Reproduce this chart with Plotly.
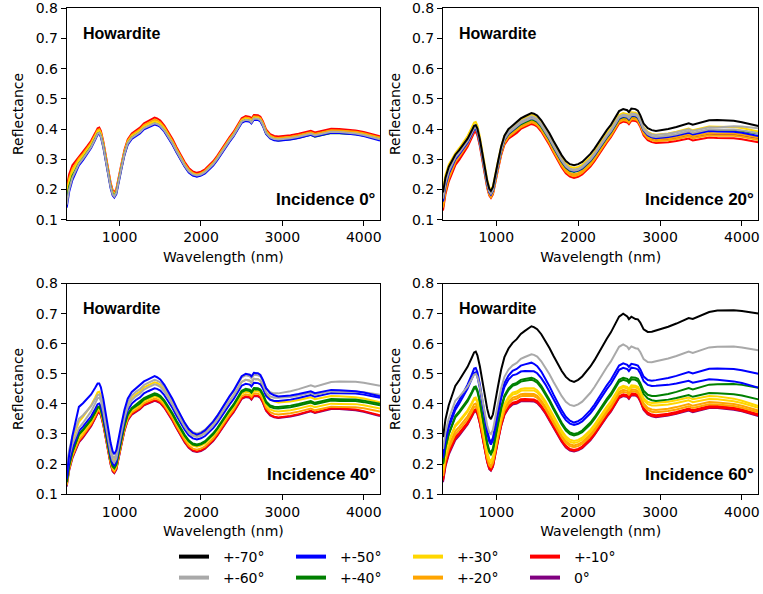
import numpy as np
import plotly.graph_objects as go

# ---------------- data ----------------
BASE_NM = [350, 380, 420, 460, 500, 550, 600, 650, 700, 730, 750, 770, 800, 830, 860, 890,
           915, 935, 960, 990, 1020, 1060, 1100, 1150, 1200, 1250, 1300, 1350, 1400, 1430,
           1460, 1500, 1550, 1600, 1650, 1700, 1750, 1800, 1850, 1900, 1950, 2000, 2050,
           2100, 2150, 2200, 2250, 2300, 2350, 2400, 2450, 2500, 2550, 2600, 2620, 2650,
           2700, 2730, 2760, 2800, 2850, 2900, 2950, 3000, 3100, 3200, 3300, 3350, 3400,
           3450, 3500, 3600, 3700, 3800, 3900, 4000, 4100, 4200]
BASE_R = [0.205, 0.250, 0.280, 0.295, 0.310, 0.325, 0.342, 0.360, 0.385, 0.401, 0.403, 0.392,
          0.357, 0.310, 0.260, 0.220, 0.195, 0.188, 0.200, 0.235, 0.280, 0.330, 0.365, 0.385,
          0.395, 0.405, 0.420, 0.428, 0.434, 0.440, 0.437, 0.430, 0.413, 0.392, 0.367, 0.340,
          0.313, 0.290, 0.270, 0.258, 0.253, 0.257, 0.265, 0.277, 0.292, 0.310, 0.332, 0.354,
          0.372, 0.390, 0.412, 0.436, 0.443, 0.440, 0.434, 0.446, 0.445, 0.440, 0.425, 0.398,
          0.383, 0.377, 0.375, 0.376, 0.379, 0.384, 0.392, 0.394, 0.388, 0.391, 0.395, 0.400,
          0.399, 0.397, 0.395, 0.390, 0.383, 0.376]

# reflectance of each curve read at these wavelengths
ANCHOR_NM = [350, 500, 740, 935, 1200, 1430, 1950, 2550, 2700, 2950, 3700, 4200]

ANGLE_LABELS = ["0°", "+-10°", "+-20°", "+-30°", "+-40°", "+-50°", "+-60°", "+-70°"]
ANGLE_COLORS = ["#800080", "#ff0000", "#ffa500", "#ffd700", "#008000", "#0000ff", "#a9a9a9", "#000000"]

PANEL_TITLES = ["Incidence 0°", "Incidence 20°", "Incidence 40°", "Incidence 60°"]
SAMPLE_NAME = "Howardite"

INC0_CURVES = [
    ("+-10°", [0.205, 0.310, 0.404, 0.190, 0.395, 0.438, 0.255, 0.443, 0.446, 0.375, 0.400, 0.376]),
    ("+-20°", [0.190, 0.302, 0.398, 0.186, 0.390, 0.431, 0.250, 0.438, 0.441, 0.370, 0.395, 0.372]),
    ("+-30°", [0.180, 0.296, 0.393, 0.182, 0.385, 0.425, 0.247, 0.434, 0.437, 0.366, 0.389, 0.368]),
    ("+-40°", [0.160, 0.286, 0.386, 0.178, 0.380, 0.418, 0.244, 0.430, 0.433, 0.362, 0.386, 0.365]),
    ("+-50°", [0.140, 0.280, 0.383, 0.173, 0.377, 0.415, 0.242, 0.427, 0.430, 0.361, 0.387, 0.362]),
    ("+-60°", [0.150, 0.285, 0.386, 0.177, 0.381, 0.419, 0.246, 0.431, 0.434, 0.365, 0.390, 0.366]),
]
INC20_CURVES = [
    ("0°",    [0.140, 0.285, 0.395, 0.178, 0.385, 0.425, 0.249, 0.432, 0.434, 0.362, 0.380, 0.370]),
    ("+-10°", [0.130, 0.280, 0.390, 0.172, 0.378, 0.417, 0.238, 0.425, 0.427, 0.354, 0.370, 0.356]),
    ("+-20°", [0.150, 0.300, 0.405, 0.178, 0.390, 0.428, 0.250, 0.436, 0.438, 0.366, 0.385, 0.372]),
    ("+-20°", [0.140, 0.290, 0.398, 0.175, 0.384, 0.422, 0.244, 0.430, 0.432, 0.360, 0.378, 0.364]),
    ("+-30°", [0.200, 0.320, 0.423, 0.199, 0.408, 0.447, 0.271, 0.453, 0.454, 0.381, 0.408, 0.392]),
    ("+-40°", [0.170, 0.305, 0.405, 0.185, 0.394, 0.432, 0.258, 0.440, 0.442, 0.372, 0.395, 0.385]),
    ("+-50°", [0.160, 0.300, 0.400, 0.183, 0.397, 0.436, 0.260, 0.442, 0.444, 0.370, 0.392, 0.377]),
    ("+-60°", [0.180, 0.310, 0.412, 0.190, 0.403, 0.442, 0.265, 0.448, 0.450, 0.380, 0.405, 0.403]),
    ("+-60°", [0.170, 0.305, 0.405, 0.186, 0.398, 0.436, 0.262, 0.444, 0.446, 0.374, 0.398, 0.386]),
    ("+-70°", [0.190, 0.315, 0.412, 0.195, 0.412, 0.453, 0.280, 0.466, 0.466, 0.394, 0.430, 0.410]),
]
INC40_CURVES = [
    ("0°",    [0.125, 0.272, 0.370, 0.170, 0.374, 0.410, 0.240, 0.423, 0.425, 0.353, 0.383, 0.360]),
    ("+-10°", [0.130, 0.275, 0.372, 0.172, 0.376, 0.412, 0.242, 0.425, 0.427, 0.355, 0.385, 0.362]),
    ("+-20°", [0.130, 0.280, 0.378, 0.176, 0.381, 0.418, 0.248, 0.432, 0.434, 0.365, 0.390, 0.375]),
    ("+-30°", [0.140, 0.290, 0.385, 0.182, 0.388, 0.425, 0.258, 0.440, 0.442, 0.375, 0.400, 0.385]),
    ("+-30°", [0.180, 0.340, 0.440, 0.210, 0.432, 0.472, 0.292, 0.480, 0.482, 0.405, 0.425, 0.405]),
    ("+-40°", [0.140, 0.300, 0.390, 0.188, 0.397, 0.435, 0.265, 0.450, 0.452, 0.390, 0.415, 0.400]),
    ("+-40°", [0.140, 0.298, 0.388, 0.186, 0.393, 0.430, 0.262, 0.446, 0.448, 0.385, 0.410, 0.395]),
    ("+-50°", [0.150, 0.310, 0.400, 0.195, 0.413, 0.452, 0.282, 0.467, 0.469, 0.410, 0.435, 0.420]),
    ("+-60°", [0.170, 0.320, 0.420, 0.205, 0.425, 0.465, 0.290, 0.480, 0.482, 0.420, 0.440, 0.430]),
    ("+-60°", [0.190, 0.350, 0.430, 0.220, 0.440, 0.480, 0.302, 0.495, 0.495, 0.435, 0.474, 0.460]),
    ("+-50°", [0.160, 0.390, 0.468, 0.233, 0.452, 0.492, 0.298, 0.500, 0.502, 0.425, 0.445, 0.425]),
]
INC60_CURVES = [
    ("0°",    [0.140, 0.280, 0.374, 0.178, 0.398, 0.410, 0.242, 0.426, 0.428, 0.356, 0.386, 0.360]),
    ("+-10°", [0.145, 0.285, 0.376, 0.180, 0.401, 0.413, 0.244, 0.428, 0.430, 0.358, 0.388, 0.362]),
    ("+-10°", [0.150, 0.290, 0.380, 0.183, 0.404, 0.417, 0.247, 0.432, 0.434, 0.362, 0.393, 0.366]),
    ("+-20°", [0.160, 0.300, 0.390, 0.190, 0.414, 0.428, 0.256, 0.440, 0.441, 0.372, 0.398, 0.372]),
    ("+-20°", [0.170, 0.310, 0.400, 0.195, 0.421, 0.435, 0.262, 0.447, 0.447, 0.380, 0.405, 0.378]),
    ("+-30°", [0.180, 0.325, 0.415, 0.205, 0.431, 0.447, 0.270, 0.455, 0.455, 0.395, 0.415, 0.387]),
    ("+-30°", [0.180, 0.330, 0.420, 0.210, 0.437, 0.454, 0.277, 0.460, 0.460, 0.404, 0.425, 0.393]),
    ("+-40°", [0.200, 0.355, 0.452, 0.232, 0.460, 0.480, 0.295, 0.480, 0.480, 0.410, 0.435, 0.415]),
    ("+-40°", [0.200, 0.360, 0.457, 0.238, 0.465, 0.487, 0.300, 0.487, 0.487, 0.426, 0.465, 0.454]),
    ("+-50°", [0.220, 0.380, 0.505, 0.265, 0.495, 0.511, 0.330, 0.520, 0.518, 0.460, 0.480, 0.454]),
    ("+-50°", [0.230, 0.390, 0.520, 0.273, 0.510, 0.537, 0.338, 0.535, 0.530, 0.479, 0.518, 0.500]),
    ("+-60°", [0.250, 0.410, 0.498, 0.300, 0.528, 0.565, 0.393, 0.598, 0.585, 0.542, 0.590, 0.578]),
    ("+-70°", [0.290, 0.460, 0.573, 0.349, 0.603, 0.658, 0.473, 0.700, 0.682, 0.644, 0.710, 0.700]),
]
PANEL_CURVES = [INC0_CURVES, INC20_CURVES, INC40_CURVES, INC60_CURVES]

X_TICKS = [1000, 2000, 3000, 4000]
Y_TICKS = [0.1, 0.2, 0.3, 0.4, 0.5, 0.6, 0.7, 0.8]

# ---------------- figure ----------------
W, H = 763, 594
base_nm = np.array(BASE_NM, float)
base_r = np.array(BASE_R, float)
base_at_anchor = np.interp(ANCHOR_NM, base_nm, base_r)
color_of = dict(zip(ANGLE_LABELS, ANGLE_COLORS))

# axes boxes in pixels: (left, top, right, bottom)
boxes = [(66.7, 8.3, 380.0, 220.0), (443.0, 8.3, 758.3, 220.0),
         (66.7, 284.0, 380.0, 495.0), (443.0, 284.0, 758.3, 495.0)]

fig = go.Figure()
TICKFONT = dict(family="DejaVu Sans", size=14, color="black")

for i, (curves, box) in enumerate(zip(PANEL_CURVES, boxes)):
    xa = "x" if i == 0 else f"x{i+1}"
    ya = "y" if i == 0 else f"y{i+1}"
    for label, levels in curves:
        # the measured curve follows the common spectral shape, offset by the
        # levels read at the anchor wavelengths
        offset = np.array(levels) - base_at_anchor
        r = base_r + np.interp(base_nm, ANCHOR_NM, offset)
        fig.add_trace(go.Scatter(x=base_nm, y=r, mode="lines", xaxis=xa, yaxis=ya,
                                 line=dict(color=color_of[label], width=2),
                                 showlegend=False, hoverinfo="skip"))
    l, t, rgt, b = box
    axname = "" if i == 0 else str(i + 1)
    fig.layout["xaxis" + axname] = dict(
        domain=[l / W, rgt / W], anchor=ya, range=[350, 4200], tickvals=X_TICKS,
        showline=True, mirror=True, linecolor="black", linewidth=1, ticks="outside",
        ticklen=5, tickcolor="black", showgrid=False, zeroline=False, tickfont=TICKFONT,
        automargin=False,
        title=dict(text="Wavelength (nm)", font=TICKFONT, standoff=7))
    fig.layout["yaxis" + axname] = dict(
        domain=[1 - b / H, 1 - t / H], anchor=xa, range=[0.1, 0.8], tickvals=Y_TICKS,
        tickformat=".1f", showline=True, mirror=True, linecolor="black", linewidth=1,
        ticks="outside", ticklen=5, tickcolor="black", showgrid=False, zeroline=False,
        automargin=False,
        tickfont=TICKFONT, title=dict(text="Reflectance", font=TICKFONT, standoff=8))
    fig.add_annotation(xref=f"{xa} domain", yref=f"{ya} domain",
                       x=14 / (rgt - l), y=1 - 25 / (b - t), xanchor="left", yanchor="middle",
                       text=SAMPLE_NAME, showarrow=False,
                       font=dict(family="Liberation Sans", size=16, color="black", weight="bold"))
    fig.add_annotation(xref=f"{xa} domain", yref=f"{ya} domain",
                       x=1 - 2 / (rgt - l), y=20 / (b - t), xanchor="right", yanchor="middle",
                       text=PANEL_TITLES[i], showarrow=False,
                       font=dict(family="Liberation Sans", size=17, color="black", weight="bold"))

# legend entries (column-major order as in the reference: 70/60, 50/40, 30/20, 10/0)
ROW1 = ["+-70°", "+-50°", "+-30°", "+-10°"]
ROW2 = ["+-60°", "+-40°", "+-20°", "0°"]
PAD = "\u00a0\u00a0"
for leg, row in (("legend", ROW1), ("legend2", ROW2)):
    for label in row:
        fig.add_trace(go.Scatter(x=[None], y=[None], mode="lines", name=PAD + label, legend=leg,
                                 line=dict(color=color_of[label], width=4), showlegend=True,
                                 hoverinfo="skip"))

LEGFONT = dict(family="DejaVu Sans", size=14, color="black")
fig.update_layout(
    width=W, height=H, margin=dict(l=0, r=0, t=0, b=0),
    paper_bgcolor="white", plot_bgcolor="white",
    legend=dict(orientation="h", x=174 / W, y=1 - 557 / H, xanchor="left", yanchor="middle",
                font=LEGFONT, entrywidth=72, entrywidthmode="pixels", bgcolor="rgba(0,0,0,0)"),
    legend2=dict(orientation="h", x=174 / W, y=1 - 579 / H, xanchor="left", yanchor="middle",
                 font=LEGFONT, entrywidth=72, entrywidthmode="pixels", bgcolor="rgba(0,0,0,0)"),
)

fig.write_html("out.html")
